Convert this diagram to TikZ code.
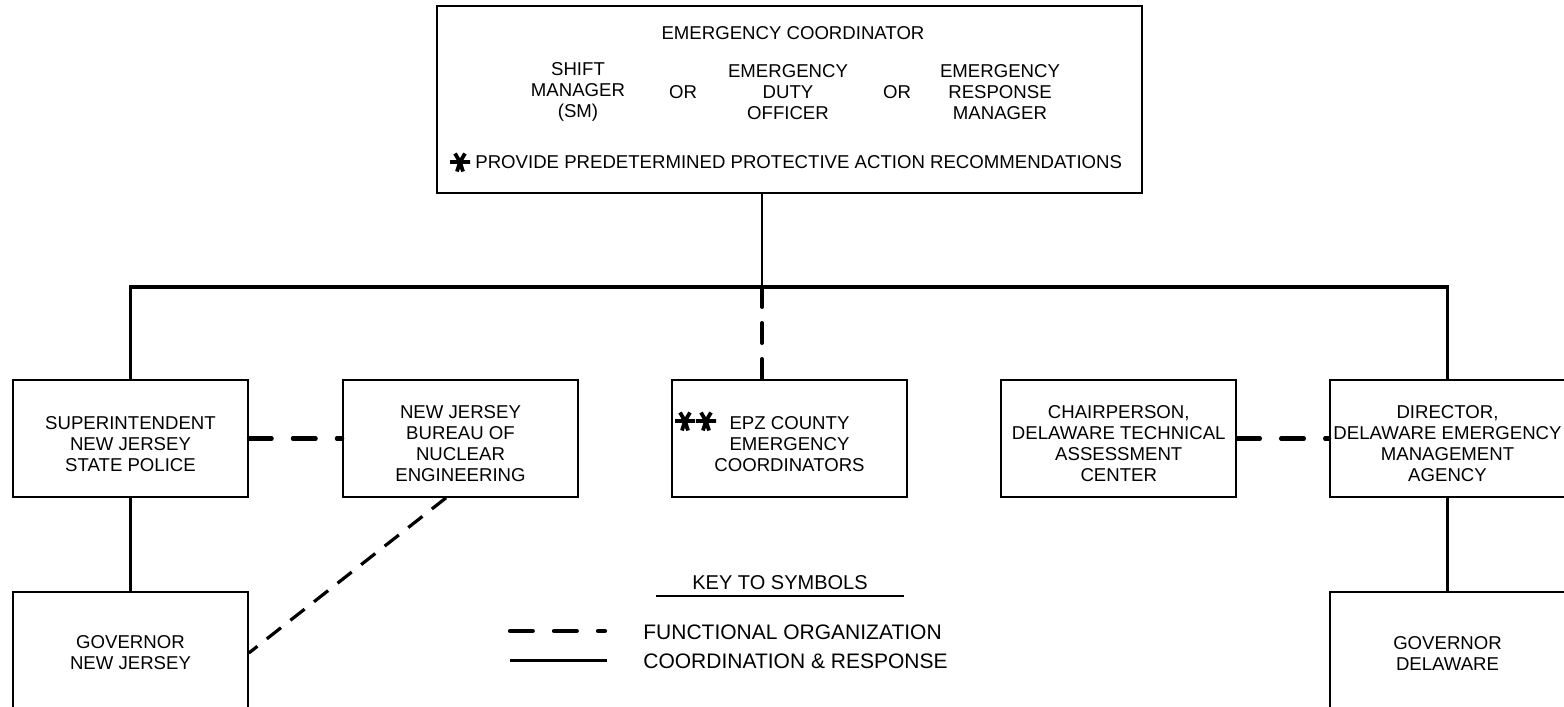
\documentclass[tikz,border=0pt]{standalone}
\usepackage{fontspec}
\setmainfont{Liberation Sans}
\usetikzlibrary{calc}
\newcommand\tstr{\rule{0pt}{11.7pt}}
\begin{document}
\begin{tikzpicture}[x=0.5pt,y=-0.5pt,
  every node/.style={font=\fontsize{9.3}{10.5}\selectfont, align=center, inner sep=0pt},
  box/.style={draw, line width=0.85pt, minimum width=117.5pt, minimum height=58.5pt},
  keytext/.style={font=\fontsize{10.5}{12}\selectfont},
  fdashed/.style={line width=2.1pt, line cap=round, dash pattern=on 11.4pt off 10.6pt},
  vdashed/.style={line width=2pt, line cap=round, dash pattern=on 10pt off 8pt},
  ddashed/.style={line width=1.6pt, dash pattern=on 9pt off 6pt},
  solidthin/.style={line width=1pt},
  solidthick/.style={line width=1.65pt},
  astk/.pic={\draw[line width=1.9pt] (-10,0) -- (10,0) (0,0) -- (-5,-8.5) (0,0) -- (5,-8.5) (0,0) -- (-3,9.5) (0,0) -- (3,9.5);}
]
\useasboundingbox (0,0) rectangle (1564,707);

% top box
\node[box, minimum width=352.65pt, minimum height=93.35pt] (top) at (789.35,99.35) {};
\node (title) at (793,33) {EMERGENCY COORDINATOR};
\node (sm) at (578,92) {SHIFT\\MANAGER\\(SM)};
\node (or1) at (683,92) {OR};
\node (edo) at (788,92) {EMERGENCY\\DUTY\\OFFICER};
\node (or2) at (897,92) {OR};
\node (erm) at (1000,92) {EMERGENCY\\RESPONSE\\MANAGER};
\pic at (460,162) {astk};
\node[anchor=west] (pav) at (475,162) {PROVIDE PREDETERMINED PROTECTIVE ACTION RECOMMENDATIONS};

% second row
\node[box] (supt) at (130.5,438.5) {\tstr SUPERINTENDENT\\NEW JERSEY\\STATE POLICE};
\node[box] (nj) at (460.5,438.5) {\tstr NEW JERSEY\\BUREAU OF\\NUCLEAR\\ENGINEERING};
\node[box] (epz) at (789.5,438.5) {\tstr EPZ COUNTY\\EMERGENCY\\COORDINATORS};
\pic at (685,421) {astk};
\pic at (706,421) {astk};
\node[box] (chair) at (1118.75,438.5) {\tstr CHAIRPERSON,\\DELAWARE TECHNICAL\\ASSESSMENT\\CENTER};
\node[box] (dir) at (1447.5,438.5) {\tstr DIRECTOR,\\DELAWARE EMERGENCY\\MANAGEMENT\\AGENCY};

% governors
\node[box, minimum height=61pt] (govnj) at (130.5,653) {GOVERNOR\\NEW JERSEY};
\node[box, minimum height=61pt] (govde) at (1447.5,653) {GOVERNOR\\DELAWARE};

% connectors
\coordinate (bus) at (762,287);
\draw[solidthin] (top.south -| bus) -- (bus);
\draw[solidthick] (supt.north) -- (supt.north |- bus) -- (dir.north |- bus) -- (dir.north);
\draw[vdashed] (bus) -- (bus |- epz.north);
\draw[fdashed] (supt.east) -- (nj.west);
\draw[fdashed] (chair.east) -- (dir.west);
\draw[line width=1.8pt] (supt.south) -- (govnj.north);
\draw[line width=1.8pt] (dir.south) -- (govde.north);
\draw[ddashed] ([xshift=-7.25pt]nj.south) -- (govnj.east);

% legend
\node[anchor=base, font=\fontsize{10}{12}\selectfont] (key) at (780,589.5) {KEY TO SYMBOLS};
\draw[line width=1.35pt] ($(key.base)+(-124.3,6.5)$) -- ($(key.base)+(124,6.5)$);
\coordinate (la1) at (510,631);
\coordinate (la2) at (605,631);
\draw[fdashed] (la1) -- (la2);
\coordinate (lb1) at (510,660.7);
\coordinate (lb2) at (607,660.7);
\draw[line width=1.5pt] (lb1) -- (lb2);
\node[anchor=west, keytext] (lfo) at (643,632) {FUNCTIONAL ORGANIZATION};
\node[anchor=west, keytext] (lcr) at (643,661) {COORDINATION \& RESPONSE};
\end{tikzpicture}
\end{document}
